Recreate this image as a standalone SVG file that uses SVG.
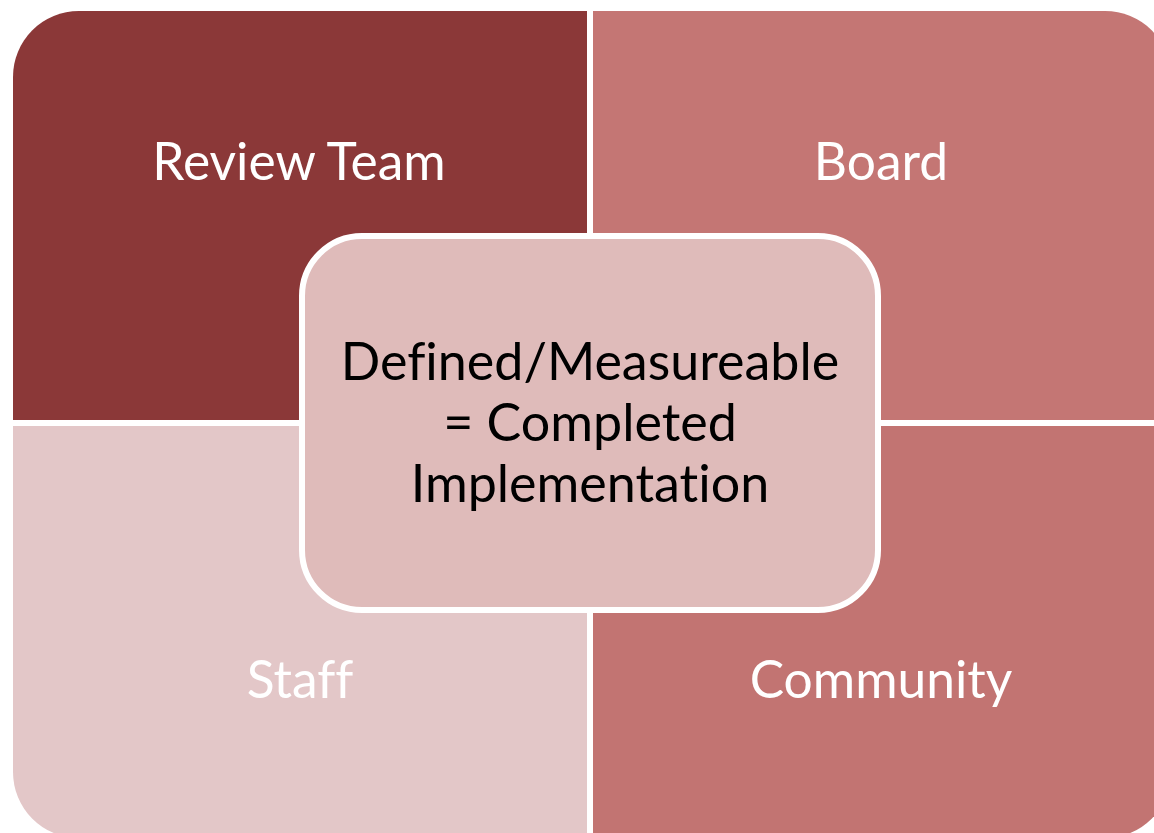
<svg xmlns="http://www.w3.org/2000/svg" width="1154" height="833" viewBox="0 0 1154 833">
  <style>
    .lbl { font-family: Lato, "Liberation Sans", sans-serif; font-size: 51.5px; fill: #ffffff; text-anchor: middle; font-variant-ligatures: none; }
    .ctr { font-family: Lato, "Liberation Sans", sans-serif; font-size: 52px; fill: #000000; text-anchor: middle; font-variant-ligatures: none; }
  </style>
  <rect width="1154" height="833" fill="#ffffff"/>
  <g id="review-team">
    <path d="M13,420 V77 A66,66 0 0 1 79,11 H587 V420 Z" fill="#8B3838"/>
    <text class="lbl" x="299" y="180">Review Team</text>
  </g>
  <g id="board">
    <path d="M593,11 H1105 A66,66 0 0 1 1171,77 V420 H593 Z" fill="#C47674"/>
    <text class="lbl" x="881" y="180">Board</text>
  </g>
  <g id="staff">
    <path d="M13,426 H587 V838 H79 A66,66 0 0 1 13,772 Z" fill="#E3C7C8"/>
    <text class="lbl" x="300" y="698">Staff</text>
  </g>
  <g id="community">
    <path d="M593,426 H1171 V772 A66,66 0 0 1 1105,838 H593 Z" fill="#C27472"/>
    <text class="lbl" x="881" y="698">Community</text>
  </g>
  <g id="center">
    <rect x="302" y="236" width="576" height="374" rx="60" ry="60" fill="#DFBBBA" stroke="#ffffff" stroke-width="6"/>
    <text class="ctr" x="590" y="380">Defined/Measureable</text>
    <text class="ctr" x="590" y="441">= Completed</text>
    <text class="ctr" x="590" y="502">Implementation</text>
  </g>
  <g id="connectors"/>
</svg>
